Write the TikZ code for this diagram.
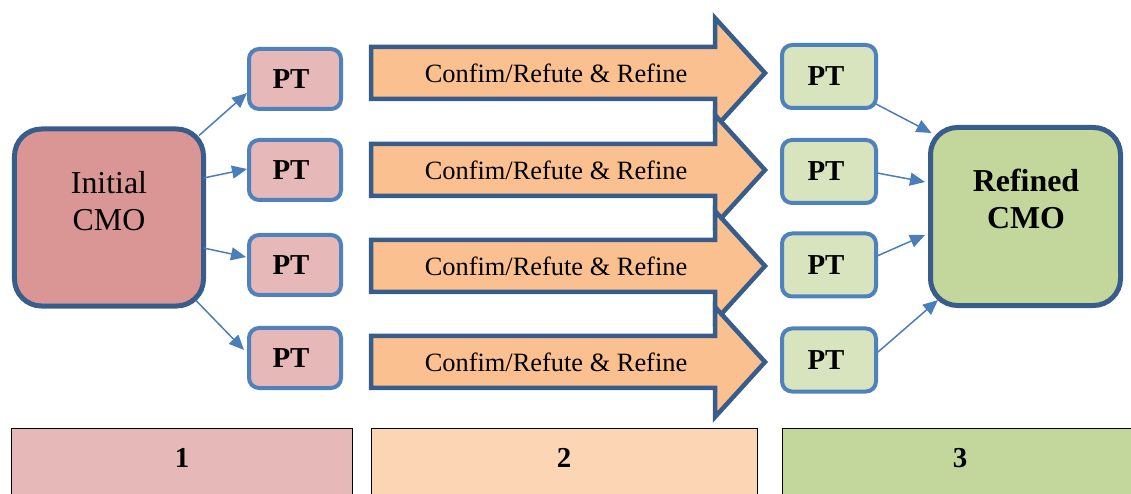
\documentclass[tikz,border=0pt]{standalone}
\usepackage{fontspec}
\setmainfont{Liberation Serif}
\usetikzlibrary{arrows.meta}
\definecolor{outline}{HTML}{385D8A}
\definecolor{ptline}{HTML}{4F81BD}
\definecolor{conncol}{HTML}{4A7EBB}
\definecolor{initfill}{HTML}{D99694}
\definecolor{ptred}{HTML}{E6B9B8}
\definecolor{arrowfill}{HTML}{FAC090}
\definecolor{ptgreen}{HTML}{D7E4BD}
\definecolor{finalfill}{HTML}{C3D69B}
\definecolor{peach}{HTML}{FCD5B5}
\begin{document}
\begin{tikzpicture}[x=1bp,y=-1bp,
  cmobox/.style={draw=outline,line width=5bp,rounded corners=27bp,
    minimum width=189bp,minimum height=177bp,outer sep=0pt,inner sep=0pt},
  cmotext/.style={align=center,font=\fontsize{32}{37}\selectfont,inner sep=0pt},
  ptbox/.style={draw=ptline,line width=4bp,rounded corners=10bp,
    minimum width=92bp,outer sep=0pt,inner sep=0pt,
    font=\fontsize{29}{33}\selectfont\bfseries},
  pttext/.style={font=\fontsize{29}{33}\selectfont\bfseries,inner sep=0pt},
  blockarrow/.style={draw=outline,fill=arrowfill,line width=4.5bp,miter limit=10},
  steptext/.style={font=\fontsize{26.5}{30}\selectfont,inner sep=0pt},
  stagebox/.style={draw=black,line width=1bp,outer sep=0pt,inner sep=0pt,
    minimum height=90bp,anchor=north west},
  stagenum/.style={font=\fontsize{29}{33}\selectfont\bfseries,inner sep=0pt},
  conn/.style={draw=conncol,line width=1.5bp,-{Triangle[length=15bp,width=13bp]}}
]
\useasboundingbox (0,0) rectangle (1131,494);
\clip (0,0) rectangle (1131,494);

% starting and refined CMO
\node[cmobox,fill=initfill] (init) at (109,217.5) {};
\node[cmotext] (initlabel) at (109,201) {Initial\\CMO};
\node[cmobox,fill=finalfill,minimum width=190bp,minimum height=178bp] (fin) at (1025.5,216.5) {};
\node[cmotext,font=\fontsize{32}{37}\selectfont\bfseries] (finlabel) at (1026,199) {Refined\\CMO};

% programme theories before refinement
\foreach \i/\cy in {1/79,2/170,3/265,4/358} {
  \node[ptbox,fill=ptred,minimum height=60bp] (lpt\i) at (295,\cy) {};
  \node[pttext] (lptlabel\i) at (291,\cy) {PT};
}

% refinement arrows
\foreach \i/\cy in {1/73,2/170,3/266,4/362} {
  \draw[blockarrow] (371,\cy-26) -- (715,\cy-26) -- (715,\cy-55) -- (765,\cy)
    -- (715,\cy+55) -- (715,\cy+26) -- (371,\cy+26) -- cycle;
  \node[steptext] (step\i) at (556,\cy) {Confim/Refute \& Refine};
}

% programme theories after refinement
\foreach \i/\cy in {1/76.5,2/171.5,3/265,4/360} {
  \node[ptbox,fill=ptgreen,minimum width=94bp,minimum height=63bp] (rpt\i) at (829,\cy) {};
  \node[pttext] (rptlabel\i) at (826,\cy) {PT};
}

% connectors
\draw[conn] ([shift={(-4.5,6.5)}]init.north east) -- ([shift={(-2,14)}]lpt1.west);
\draw[conn] ([shift={(0,-39.5)}]init.east) -- ([shift={(-2,-1)}]lpt2.west);
\draw[conn] ([shift={(0,30.5)}]init.east) -- ([shift={(-3,-8)}]lpt3.west);
\draw[conn] ([shift={(-7.5,-5.5)}]init.south east) -- ([shift={(-5,-8)}]lpt4.west);

\draw[conn] ([shift={(0,-4)}]rpt1.south east) -- ([shift={(1,5.5)}]fin.north west);
\draw[conn] ([shift={(1,1.5)}]rpt2.east) -- ([shift={(-5.5,-34.5)}]fin.west);
\draw[conn] ([shift={(1,-9)}]rpt3.east) -- ([shift={(-5.5,18.5)}]fin.west);
\draw[conn] ([shift={(2,-8)}]rpt4.east) -- ([shift={(7.5,-5.5)}]fin.south west);

% stage bands
\node[stagebox,fill=ptred,minimum width=341bp] (stage1) at (11.5,428) {};
\node[stagebox,fill=peach,minimum width=386bp] (stage2) at (371,428) {};
\node[stagebox,fill=finalfill,minimum width=360bp] (stage3) at (782,428) {};
\node[stagenum] (num1) at (182,458) {1};
\node[stagenum] (num2) at (564,458) {2};
\node[stagenum] (num3) at (960,458) {3};
\end{tikzpicture}
\end{document}
